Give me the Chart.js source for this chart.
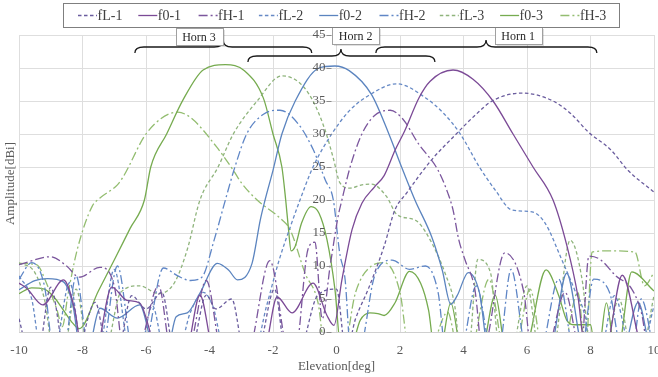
<!DOCTYPE html>
<html><head><meta charset="utf-8">
<script src="https://cdn.jsdelivr.net/npm/chart.js@4/dist/chart.umd.min.js"></script>
<style>html,body{margin:0;padding:0;background:#fff}#wrap{width:658px;height:377px}</style>
</head><body><div id="wrap"><canvas id="c" width="658" height="377"></canvas></div>
<script>
// ---- data (elevation [deg], amplitude [dBi]); values below 0 are off-scale nulls ----
const seriesNames = ['fL-1','f0-1','fH-1','fL-2','f0-2','fH-2','fL-3','f0-3','fH-3'];
const xTicks = [-10,-8,-6,-4,-2,0,2,4,6,8,10];
const yTicks = [0,5,10,15,20,25,30,35,40,45];

const fL1 = [[-10,2],[-9.7,-3],[-9.4,-3],[-9.0,6.8],[-8.55,-3],[-8.2,-3],[-7.6,4.5],[-7.2,-3],[-6.9,-3],[-6.45,5.5],[-6.0,3.5],[-5.5,6],[-5.1,-3],[-4.6,-3],[-4.1,5.6],[-3.8,3.5],[-3.3,5],[-2.9,-3],[-2.5,-3],[-1.95,6.5],[-1.6,-3],[-1.2,-3],[-0.6,5.5],[0.0,6.5],[0.3,-3],[0.6,2],[1.0,6.5],[1.5,13],[1.84,18.5],[2.2,21],[2.98,26],[3.73,29.8],[4.4,33],[4.9,35],[5.84,36.2],[6.82,35],[7.4,33],[7.93,30.3],[8.64,27.6],[9.18,24.5],[10,21.2]];
const f01 = [[-10,7.4],[-9.75,6.6],[-9.25,4.1],[-8.6,7.9],[-8.25,3.5],[-8.0,-3],[-7.6,-3],[-7.08,6.8],[-6.6,4.8],[-6.2,4.4],[-5.6,-3],[-4.75,-3],[-4.3,5.6],[-3.85,-3],[-2.3,-3],[-1.87,5.3],[-1.4,2.9],[-0.74,7.4],[-0.3,2.5],[-0.08,1.0],[0.17,7.9],[0.49,15.5],[0.8,19.5],[1.2,22],[1.5,23.7],[1.84,27.5],[2.15,30.5],[2.6,35.5],[2.95,38],[3.67,39.7],[4.3,38.3],[4.93,35],[5.56,30],[6.19,25],[6.82,20],[7.26,13],[7.6,5.5],[7.85,-3],[8.45,-3],[9.0,8.6],[9.7,-3],[10,-3]];
const fH1 = [[-10,10.2],[-9.0,11.4],[-8.5,10],[-8.1,8.3],[-7.45,9.8],[-7.0,7],[-6.7,-3],[-6.3,-3],[-5.6,7],[-5.2,-3],[-4.7,-3],[-4.1,7.8],[-3.6,-3],[-2.8,-3],[-2.1,10.8],[-1.5,-3],[-1.3,-3],[-0.9,12.5],[-0.68,13.6],[-0.45,2],[-0.2,10],[0.05,17.5],[0.17,20],[0.43,25],[0.8,30],[1.2,32.8],[1.69,33.6],[2.1,32.2],[2.57,28.6],[3.2,24.5],[3.51,21],[3.67,18.5],[3.85,14],[4.05,10.9],[4.36,6.4],[4.6,-3],[5.3,12],[5.9,6],[6.15,-3],[6.6,-3],[7.2,6],[7.7,-3],[7.95,11.5],[8.3,11],[8.8,8.5],[9.3,6.5],[9.6,3],[9.85,-3],[10,-3]];
const fL2 = [[-10,8.5],[-9.6,5],[-9.3,-3],[-8.9,-3],[-8.4,7.5],[-8.0,-3],[-7.5,-3],[-7.0,9.5],[-6.5,-3],[-6.2,-3],[-5.8,4],[-5.4,-3],[-5.0,-3],[-4.6,3],[-4.2,6],[-3.9,4],[-3.5,-3],[-2.6,-3],[-2.2,4],[-1.8,11],[-1.45,16],[-1.15,20],[-0.74,25],[-0.15,30],[0.4,33.5],[1.0,35.8],[1.9,37.6],[2.8,35.5],[3.4,33],[3.9,30],[4.5,25],[5.0,21.5],[5.52,18.5],[6.16,18.2],[6.57,16.5],[7.1,10.9],[7.5,6.4],[7.83,2.3],[8.0,-3],[8.3,-3],[8.75,5.5],[9.3,-3],[9.6,-3],[10,4]];
const f02 = [[-10,6.4],[-9.5,7.8],[-9.1,8.1],[-8.6,7.6],[-8.3,4],[-8.05,-3],[-7.85,-3],[-7.45,3.6],[-6.9,2.1],[-6.2,4.1],[-5.7,-3],[-5.35,-3],[-5.05,2.3],[-4.7,2.9],[-4.3,5.9],[-3.75,10.4],[-3.4,9.4],[-3.12,7.9],[-2.66,10.4],[-2.4,17],[-2.25,20],[-2.0,24.5],[-1.72,30],[-1.3,35],[-0.55,40],[-0.05,40.3],[0.4,39.6],[1.1,36],[1.65,30],[2.05,25],[2.47,20],[3.0,14.4],[3.33,9.4],[3.6,4.2],[3.8,5.5],[4.15,9],[4.5,6],[4.8,-3],[6.7,-3],[7.25,8.9],[7.8,-3],[9.0,-3],[9.5,4.5],[9.95,-3],[10,-3]];
const fH2 = [[-10,8],[-9.6,10.5],[-9.2,7],[-8.9,-3],[-8.6,-3],[-8.2,8.5],[-7.8,-3],[-7.4,-3],[-6.9,10],[-6.4,-3],[-6.1,-3],[-5.45,9.7],[-5.0,8.5],[-4.6,7.8],[-4.24,8.3],[-3.85,14],[-3.5,20],[-3.2,25],[-2.83,30],[-2.3,33],[-1.78,33.6],[-1.2,31.5],[-0.73,27.6],[-0.35,23],[-0.1,20],[0.1,12],[0.27,8],[0.45,-3],[0.7,-3],[1.2,8.5],[1.75,10.9],[2.3,9.5],[2.8,10],[3.2,6],[3.45,-3],[3.9,-3],[4.4,7],[4.9,-3],[5.1,-3],[5.5,9.5],[6.0,-3],[6.4,-3],[7.0,8],[7.5,-3],[7.7,-3],[8.1,8],[8.6,6],[9.0,-3],[9.3,-3],[9.6,5],[10,-3]];
const fL3 = [[-10,10.5],[-9.5,9],[-9.2,5],[-8.9,-3],[-8.6,-3],[-8.2,6.5],[-7.8,-3],[-7.3,-3],[-6.8,6],[-6.2,7],[-5.6,5.8],[-5.1,7.5],[-4.7,12.5],[-4.3,20],[-3.73,25],[-3.25,30],[-2.5,35],[-1.72,38.8],[-1.15,37.7],[-0.74,35],[-0.36,30.6],[-0.11,26.5],[0.11,22.6],[0.43,21.8],[0.8,22.3],[1.1,22.4],[1.58,20.5],[1.9,17.8],[2.4,17.1],[2.6,16.5],[3.0,13.5],[3.42,8.9],[3.73,3.8],[3.9,-3],[4.15,-3],[4.45,11],[4.85,9],[5.15,-3],[5.5,-3],[6.0,7],[6.4,-3],[6.8,-3],[7.36,13.9],[7.75,7.5],[8.0,-3],[8.4,-3],[8.9,5],[9.3,-3],[9.6,-3],[10,5.5]];
const f03 = [[-10,5.8],[-9.6,6.7],[-9.2,6.5],[-8.9,5.3],[-8.6,3.3],[-8.3,1.3],[-8.1,0.5],[-7.5,6.2],[-7,10.9],[-6.5,15.7],[-6.05,20],[-5.85,25],[-5.35,30],[-4.83,35.2],[-4.2,39.7],[-3.5,40.5],[-2.9,39.6],[-2.3,35.4],[-2.0,30],[-1.72,25],[-1.6,20],[-1.52,16],[-1.43,12.3],[-1.3,13],[-1.1,16.5],[-0.8,19],[-0.55,18],[-0.3,14],[-0.05,6.5],[0.15,-3],[0.4,-3],[0.75,1.8],[1.05,2.9],[1.3,2.8],[1.5,2.5],[1.84,4.4],[2.3,9.2],[2.65,7.4],[2.9,3.3],[3.1,-3],[3.25,-3],[3.6,4.4],[3.95,-3],[4.55,-3],[5.0,5.6],[5.35,-3],[5.9,-3],[6.6,9.4],[7.0,5.5],[7.25,1.8],[7.5,1.1],[8.0,1.1],[8.15,-3],[8.25,-3],[8.5,4.4],[8.78,-3],[8.85,-3],[9.3,9.1],[10,6.2]];
const fH3 = [[-10,10.4],[-9.45,10.2],[-9.1,7],[-8.8,3.3],[-8.64,0.8],[-8.45,5.9],[-8.17,12.4],[-7.7,19],[-7.45,20.3],[-6.9,22.3],[-6.72,23.5],[-5.97,30.2],[-5.0,33.3],[-4.6,32.5],[-3.77,28],[-3.25,24.5],[-2.98,22.5],[-2.5,20],[-1.72,17],[-1.46,15.5],[-0.99,8.9],[-0.58,4.4],[-0.35,-3],[0.2,-3],[0.6,6],[1.1,10],[1.5,10.5],[2.0,6],[2.3,-3],[2.9,-3],[3.5,3],[3.85,-3],[4.2,-3],[4.8,8],[5.3,-3],[5.6,-3],[6.1,6.5],[6.5,-3],[7.1,-3],[7.6,6],[7.85,-3],[8.05,12.1],[8.6,12.3],[9.4,12.1],[9.7,7],[10,9]];

// horn annotation spans, in elevation degrees
const hornLabels = ['Horn 3','Horn 2','Horn 1'];
const hornFrom   = [-6.35,-2.79,1.24];
const hornTo     = [-0.78,3.1,8.2];
const hornTip    = [-3.57,0.14,4.71];
const hornBoxAt  = [-4.33,0.6,5.72];

// ---- styles ----
const colors = ['#6a5c9e','#7b4a96','#7b569d','#6689c5','#5b84bf','#5f86c6','#8fb47c','#76ab4f','#93bd70'];
const DASH = [3.5,2.5], DASHDOT = [9,3,2,3];
const dashes = [DASH,[],DASHDOT,DASH,[],DASHDOT,DASH,[],DASHDOT];
const allData = [fL1,f01,fH1,fL2,f02,fH2,fL3,f03,fH3];
const SERIF = "'Liberation Serif','Times New Roman',serif";
Chart.defaults.font.family = SERIF;

const datasets = seriesNames.map((n,i)=>({
  label:n,
  data: allData[i].map(p=>({x:p[0],y:p[1]})),
  borderColor:colors[i], backgroundColor:colors[i],
  borderDash:dashes[i], borderWidth:1.3,
  pointRadius:0, fill:false, cubicInterpolationMode:'monotone'
}));

const overlay = {
  id:'overlay',
  afterDraw(chart){
    const ctx = chart.ctx, xs = chart.scales.x, ys = chart.scales.y;
    ctx.save();
    // y tick labels on the x=0 axis
    const x0 = xs.getPixelForValue(0);
    ctx.font = '13px '+SERIF; ctx.fillStyle='#595959'; ctx.textAlign='right'; ctx.textBaseline='middle';
    ctx.strokeStyle='#8c8c8c'; ctx.lineWidth=1;
    yTicks.forEach(v=>{
      const y = ys.getPixelForValue(v);
      ctx.fillText(String(v), x0-11, y);
      ctx.beginPath(); ctx.moveTo(x0-10, Math.round(y)+0.5); ctx.lineTo(x0-5, Math.round(y)+0.5); ctx.stroke();
    });
    // braces
    ctx.strokeStyle='#1a1a1a'; ctx.lineWidth=1.3; ctx.setLineDash([]);
    const bY = [47,56,47], h=6;
    hornLabels.forEach((lab,i)=>{
      const a = xs.getPixelForValue(hornFrom[i]), b = xs.getPixelForValue(hornTo[i]), m = xs.getPixelForValue(hornTip[i]);
      const yl = bY[i], r = 9;
      ctx.beginPath();
      ctx.moveTo(a, yl+h);
      ctx.quadraticCurveTo(a, yl, a+r, yl);
      ctx.lineTo(m-r, yl);
      ctx.quadraticCurveTo(m, yl, m, yl-h-1);
      ctx.quadraticCurveTo(m, yl, m+r, yl);
      ctx.lineTo(b-r, yl);
      ctx.quadraticCurveTo(b, yl, b, yl+h);
      ctx.stroke();
    });
    // horn label boxes
    const boxTop = [28,27,27];
    ctx.font = '12px '+SERIF; ctx.textAlign='center'; ctx.textBaseline='middle';
    hornLabels.forEach((lab,i)=>{
      const cx = xs.getPixelForValue(hornBoxAt[i]);
      const w = 47, hh = 17, l = Math.round(cx-w/2)+0.5, t = boxTop[i]+0.5;
      ctx.fillStyle='rgba(0,0,0,0.12)'; ctx.fillRect(l+1.5,t+1.5,w,hh);
      ctx.fillStyle='#ffffff'; ctx.fillRect(l,t,w,hh);
      ctx.strokeStyle='#a0a0a0'; ctx.lineWidth=1; ctx.strokeRect(l,t,w,hh);
      ctx.fillStyle='#262626'; ctx.fillText(lab, cx, t+hh/2+0.5);
    });
    // legend
    const L=63.5, T=3.5, W=556, H=24;
    ctx.fillStyle='#ffffff'; ctx.fillRect(L,T,W,H);
    ctx.strokeStyle='#7f7f7f'; ctx.lineWidth=1; ctx.strokeRect(L,T,W,H);
    ctx.font='14px '+SERIF; ctx.textAlign='left'; ctx.textBaseline='middle';
    chart.data.datasets.forEach((ds,i)=>{
      const sx = 78 + i*60.3, sy = 15.5;
      ctx.strokeStyle=ds.borderColor; ctx.lineWidth=1.3; ctx.setLineDash(ds.borderDash);
      ctx.beginPath(); ctx.moveTo(sx, sy); ctx.lineTo(sx+19, sy); ctx.stroke();
      ctx.setLineDash([]);
      ctx.fillStyle='#404040'; ctx.fillText(ds.label, sx+19.5, sy+0.5);
    });
    ctx.restore();
  }
};

new Chart(document.getElementById('c'), {
  type:'line',
  data:{datasets},
  options:{
    responsive:false, animation:false, devicePixelRatio:1,
    layout:{padding:{top:35,right:4,left:0,bottom:0}},
    plugins:{legend:{display:false}, tooltip:{enabled:false}},
    scales:{
      x:{type:'linear', min:-10, max:10,
         afterBuildTicks:s=>{s.ticks = xTicks.map(v=>({value:v}));},
         grid:{color:'#dedede', drawTicks:false}, border:{color:'#d0d0d0'},
         ticks:{font:{size:13, family:SERIF}, color:'#595959', padding:11, maxRotation:0},
         title:{display:true, text:'Elevation[deg]', font:{size:13, family:SERIF}, color:'#595959', padding:{top:0,bottom:3}},
         afterFit:s=>{s.height=45; s.paddingLeft=0; s.paddingRight=0;}},
      y:{type:'linear', min:0, max:45,
         afterBuildTicks:s=>{s.ticks = yTicks.map(v=>({value:v}));},
         grid:{color:'#dedede', drawTicks:false}, border:{display:false},
         ticks:{display:false},
         title:{display:true, text:'Amplitude[dBi]', font:{size:13, family:SERIF}, color:'#595959', padding:{top:3,bottom:0}},
         afterFit:s=>{s.width=19; s.paddingTop=0; s.paddingBottom=0;}}
    }
  },
  plugins:[overlay]
});
</script></body></html>
